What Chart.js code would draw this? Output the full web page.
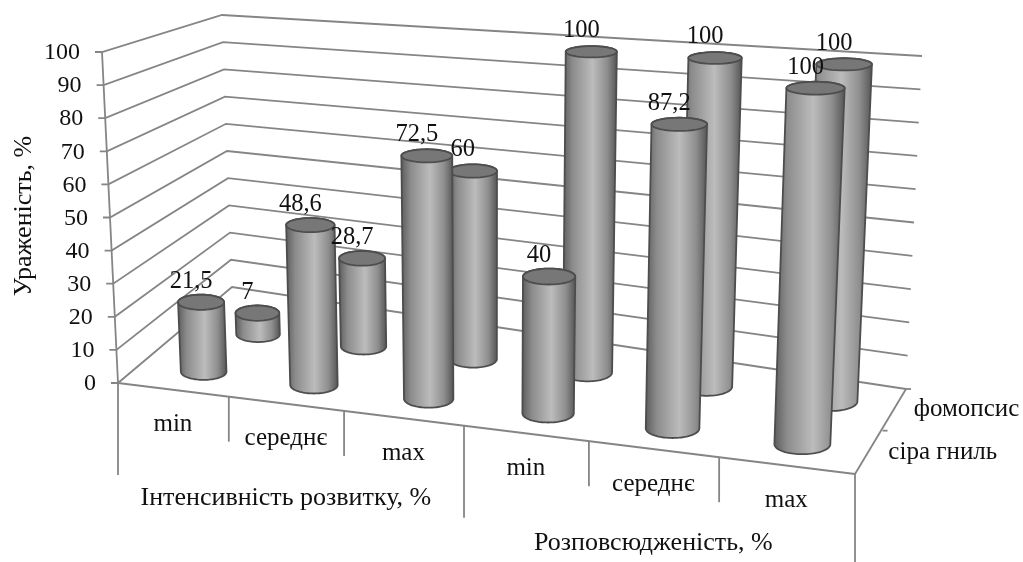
<!DOCTYPE html>
<html lang="uk">
<head>
<meta charset="utf-8">
<title>Ураженість, %</title>
<script src="https://cdn.jsdelivr.net/npm/chart.js@4"></script>
<style>
  html, body { margin: 0; padding: 0; background: #fff; }
  canvas { display: block; }
</style>
</head>
<body>
<canvas id="chart" width="1023" height="562"></canvas>
<script>
// Chart values
const categories = ["min", "середнє", "max", "min", "середнє", "max"];
const groupLabels = ["Інтенсивність розвитку, %", "Розповсюдженість, %"];
const seriesNames = ["сіра гниль", "фомопсис"];
const siraGnyl = [21.5, 48.6, 72.5, 40, 87.2, 100];
const fomopsys = [7, 28.7, 60, 100, 100, 100];
const valueAxisTitle = "Ураженість, %";

// Corners of the 3D box on the screen (front left, front right, back right, back left)
const floorCorners = [[118, 383], [855, 474], [906, 389], [232, 287]];
const topCorners = [[102, 52], [871, 105], [922, 56], [222, 15]];

// Perspective squeeze along the width and the depth of the box
const WIDTH_SQUEEZE = 1.13;
const DEPTH_SQUEEZE = 0.85;

const FONT = "Liberation Serif";
const LINE_COLOR = "#858585";
const TEXT_COLOR = "#111";

function squeeze(s, k) {
  return s / (k - (k - 1) * s);
}

function bilinear(q, c, s, t) {
  const front = q[0][c] + (q[1][c] - q[0][c]) * s;
  const back = q[3][c] + (q[2][c] - q[3][c]) * s;
  return front + (back - front) * t;
}

// u: 0..6 along categories, v: 0..2 front to back, w: 0..1 height
function project(u, v, w) {
  const s = squeeze(u / categories.length, WIDTH_SQUEEZE);
  const depth = v / seriesNames.length;
  const tx = squeeze(depth, DEPTH_SQUEEZE);
  // the rows sit closer to the front on the left side of the floor
  const m = 0.74 + 0.28 * s;
  const ty = depth * m + (1 - m) * Math.pow(depth, 10);
  const x0 = bilinear(floorCorners, 0, s, tx);
  const y0 = bilinear(floorCorners, 1, s, ty);
  const x1 = bilinear(topCorners, 0, s, tx);
  const y1 = bilinear(topCorners, 1, s, ty);
  return [x0 + (x1 - x0) * w, y0 + (y1 - y0) * w];
}

function drawLine(ctx, a, b) {
  ctx.beginPath();
  ctx.moveTo(a[0], a[1]);
  ctx.lineTo(b[0], b[1]);
  ctx.stroke();
}

function drawText(ctx, text, x, y, size, align) {
  ctx.font = size + "px '" + FONT + "'";
  ctx.fillStyle = TEXT_COLOR;
  ctx.textAlign = align || "center";
  ctx.textBaseline = "middle";
  ctx.fillText(text, x, y);
}

// Walls, floor and axis lines
function drawBox(chart) {
  const ctx = chart.ctx;
  const yScale = chart.scales.y;
  const nCat = categories.length;
  const nRow = seriesNames.length;
  ctx.save();
  ctx.strokeStyle = LINE_COLOR;
  ctx.lineWidth = 1.8;

  yScale.ticks.forEach(function (tick) {
    const w = (yScale.bottom - yScale.getPixelForValue(tick.value)) / (yScale.bottom - yScale.top);
    const front = project(0, 0, w);
    const back = project(0, nRow, w);
    const right = project(nCat, nRow, w);
    ctx.beginPath();
    ctx.moveTo(front[0] - 7, front[1]);
    ctx.lineTo(front[0], front[1]);
    ctx.lineTo(back[0], back[1]);
    ctx.lineTo(right[0], right[1]);
    ctx.stroke();
  });

  // value axis
  drawLine(ctx, project(0, 0, 0), project(0, 0, 1));
  // floor edges
  drawLine(ctx, project(0, 0, 0), project(nCat, 0, 0));
  drawLine(ctx, project(nCat, 0, 0), project(nCat, nRow, 0));

  // depth axis ticks
  for (let v = 1; v <= nRow; v++) {
    const p = project(nCat, v, 0);
    drawLine(ctx, p, [p[0] + 5, p[1]]);
  }

  // category separators, long ones between the groups
  for (let i = 0; i <= nCat; i++) {
    const p = project(i, 0, 0);
    const len = i % 3 === 0 ? 92 : 45;
    drawLine(ctx, p, [p[0], p[1] + len]);
  }
  ctx.restore();
}

// Points of a level ellipse around a bar end, from angle a0 to a1
function ellipsePoints(uc, vc, ru, w, a0, a1) {
  const c = project(uc, vc, w);
  const r = project(uc + ru, vc, w);
  const rx = r[0] - c[0];
  const ry = 2 * rx * (0.18 - 0.07 * w);
  const pts = [];
  for (let i = 0; i <= 40; i++) {
    const a = a0 + ((a1 - a0) * i) / 40;
    pts.push([c[0] + rx * Math.cos(a), c[1] - ry * Math.sin(a)]);
  }
  return pts;
}

// One cylinder standing on the floor of a row
function drawCylinder(ctx, uc, vc, ru, w) {
  const backOfTop = ellipsePoints(uc, vc, ru, w, 0, Math.PI);
  const frontOfBase = ellipsePoints(uc, vc, ru, 0, Math.PI, 2 * Math.PI);
  const left = Math.min(backOfTop[40][0], frontOfBase[0][0]);
  const right = Math.max(backOfTop[0][0], frontOfBase[40][0]);

  const grad = ctx.createLinearGradient(left, 0, right, 0);
  grad.addColorStop(0, "#5e5e5e");
  grad.addColorStop(0.18, "#8c8c8c");
  grad.addColorStop(0.55, "#bcbcbc");
  grad.addColorStop(0.82, "#8e8e8e");
  grad.addColorStop(1, "#565656");

  ctx.beginPath();
  frontOfBase.concat(backOfTop).forEach(function (p, i) {
    if (i === 0) ctx.moveTo(p[0], p[1]);
    else ctx.lineTo(p[0], p[1]);
  });
  ctx.closePath();
  ctx.fillStyle = grad;
  ctx.fill();
  ctx.strokeStyle = "#4d4d4d";
  ctx.lineWidth = 1.8;
  ctx.stroke();

  ctx.beginPath();
  ellipsePoints(uc, vc, ru, w, 0, 2 * Math.PI).forEach(function (p, i) {
    if (i === 0) ctx.moveTo(p[0], p[1]);
    else ctx.lineTo(p[0], p[1]);
  });
  ctx.closePath();
  ctx.fillStyle = "#777";
  ctx.fill();
  ctx.stroke();
}

// Turn a bar element of the (invisible) Chart.js bars into box coordinates
function barToBox(chart, bar) {
  const area = chart.chartArea;
  const nCat = categories.length;
  const catWidth = (area.right - area.left) / nCat;
  return {
    u: ((bar.x - area.left) / (area.right - area.left)) * nCat,
    w: (area.bottom - bar.y) / (area.bottom - area.top),
    ru: bar.width / 2 / catWidth,
  };
}

// Draw the back row first so the front row covers it
function drawBars(chart) {
  const ctx = chart.ctx;
  ctx.save();
  for (let d = chart.data.datasets.length - 1; d >= 0; d--) {
    chart.getDatasetMeta(d).data.forEach(function (bar) {
      const box = barToBox(chart, bar);
      drawCylinder(ctx, box.u, d + 0.5, box.ru, box.w);
    });
  }
  ctx.restore();
}

function formatValue(value) {
  return String(value).replace(".", ",");
}

function drawLabels(chart) {
  const ctx = chart.ctx;
  const yScale = chart.scales.y;
  const nCat = categories.length;
  ctx.save();

  // value axis ticks
  yScale.ticks.forEach(function (tick) {
    const w = (yScale.bottom - yScale.getPixelForValue(tick.value)) / (yScale.bottom - yScale.top);
    const p = project(0, 0, w);
    drawText(ctx, tick.label, p[0] - 22, p[1] + 1, 24, "right");
  });

  // value axis title
  ctx.save();
  ctx.translate(24, 216);
  ctx.rotate(-Math.PI / 2);
  drawText(ctx, valueAxisTitle, 0, 0, 26);
  ctx.restore();

  // data labels
  for (let d = chart.data.datasets.length - 1; d >= 0; d--) {
    chart.getDatasetMeta(d).data.forEach(function (bar, i) {
      const box = barToBox(chart, bar);
      const p = project(box.u, d + 0.5, box.w);
      drawText(ctx, formatValue(chart.data.datasets[d].data[i]), p[0] - 10, p[1] - 21, 24.5);
    });
  }

  // categories
  categories.forEach(function (name, i) {
    const p = project(i + 0.5, 0, 0);
    drawText(ctx, name, p[0], p[1] + 35, 25);
  });

  // groups
  groupLabels.forEach(function (name, i) {
    const p = project(i * 3 + 1.5, 0, 0);
    drawText(ctx, name, p[0], p[1] + 94, 26);
  });

  // series names on the depth axis
  seriesNames.forEach(function (name, i) {
    const p = project(nCat, i + 0.5, 0);
    drawText(ctx, name, p[0] + 19, p[1], 25, "left");
  });
  ctx.restore();
}

const cylinderPlugin = {
  id: "cylinders",
  beforeDatasetsDraw: drawBox,
  afterDatasetsDraw: function (chart) {
    drawBars(chart);
    drawLabels(chart);
  },
};

new Chart(document.getElementById("chart"), {
  type: "bar",
  data: {
    labels: categories,
    datasets: [
      { label: seriesNames[0], data: siraGnyl, backgroundColor: "rgba(0,0,0,0)" },
      { label: seriesNames[1], data: fomopsys, backgroundColor: "rgba(0,0,0,0)" },
    ],
  },
  options: {
    responsive: false,
    animation: false,
    events: [],
    layout: { padding: 0 },
    datasets: { bar: { grouped: false, barPercentage: 0.42, categoryPercentage: 1 } },
    plugins: { legend: { display: false }, tooltip: { enabled: false } },
    scales: {
      x: { display: false },
      y: { display: false, min: 0, max: 100, ticks: { stepSize: 10 } },
    },
  },
  plugins: [cylinderPlugin],
});
</script>
</body>
</html>
